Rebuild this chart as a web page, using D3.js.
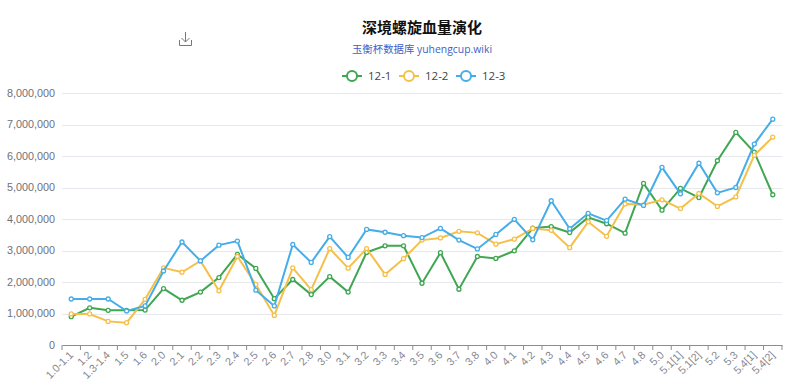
<!DOCTYPE html>
<html>
<head>
<meta charset="utf-8">
<script src="https://cdn.jsdelivr.net/npm/d3@7"></script>
<style>
  html, body { margin: 0; padding: 0; background: #fff; }
  svg { display: block; font-family: "Open Sans", "Noto Sans CJK SC", sans-serif; }
</style>
</head>
<body>
<svg id="chart" width="800" height="387"></svg>
<script>
const categories = ['1.0-1.1', '1.2', '1.3-1.4', '1.5', '1.6', '2.0', '2.1', '2.2', '2.3', '2.4', '2.5', '2.6', '2.7', '2.8',
  '3.0', '3.1', '3.2', '3.3', '3.4', '3.5', '3.6', '3.7', '3.8', '4.0', '4.1', '4.2', '4.3', '4.4', '4.5', '4.6', '4.7', '4.8',
  '5.0', '5.1[1]', '5.1[2]', '5.2', '5.3', '5.4[1]', '5.4[2]'];

const green = [900000, 1180000, 1100000, 1100000, 1110000, 1790000, 1420000, 1680000, 2140000, 2880000, 2430000, 1470000, 2080000, 1600000,
  2170000, 1680000, 2940000, 3150000, 3150000, 1960000, 2930000, 1770000, 2810000, 2750000, 2990000, 3710000, 3760000, 3570000, 4050000, 3850000, 3550000, 5130000,
  4280000, 4970000, 4680000, 5850000, 6750000, 6120000, 4770000];

const yellow = [985000, 985000, 750000, 710000, 1450000, 2450000, 2310000, 2670000, 1720000, 2810000, 1920000, 940000, 2450000, 1760000,
  3060000, 2440000, 3060000, 2240000, 2740000, 3330000, 3400000, 3610000, 3560000, 3200000, 3360000, 3700000, 3640000, 3090000, 3910000, 3450000, 4480000, 4450000,
  4610000, 4330000, 4810000, 4400000, 4700000, 6020000, 6600000];

const blue = [1460000, 1460000, 1460000, 1080000, 1240000, 2350000, 3270000, 2670000, 3170000, 3300000, 1740000, 1240000, 3190000, 2620000,
  3440000, 2780000, 3670000, 3580000, 3470000, 3410000, 3700000, 3330000, 3050000, 3510000, 3990000, 3340000, 4580000, 3690000, 4180000, 3950000, 4630000, 4430000,
  5640000, 4800000, 5770000, 4830000, 5000000, 6380000, 7170000];

const seriesNames = ['12-1', '12-2', '12-3'];
const seriesColors = ['#3fa652', '#f5c04a', '#45ade8'];
const seriesValues = [green, yellow, blue];
const yTicks = [0, 1000000, 2000000, 3000000, 4000000, 5000000, 6000000, 7000000, 8000000];

const margin = { left: 62, right: 18, top: 93, bottom: 42 };
const width = 800;
const height = 387;

const svg = d3.select('#chart');

const x = d3.scaleBand().domain(categories).range([margin.left, width - margin.right]);
const y = d3.scaleLinear().domain([0, 8000000]).range([height - margin.bottom, margin.top]);

// horizontal grid
svg.append('g')
  .selectAll('line')
  .data(yTicks.slice(1))
  .join('line')
  .attr('x1', margin.left)
  .attr('x2', width - margin.right)
  .attr('y1', function (d) { return Math.round(y(d)) + 0.5; })
  .attr('y2', function (d) { return Math.round(y(d)) + 0.5; })
  .attr('stroke', '#e6e8ee');

// y axis, labels only
const yAxis = svg.append('g')
  .attr('transform', `translate(${margin.left},0)`)
  .call(d3.axisLeft(y).tickValues(yTicks).tickSize(0).tickPadding(7).tickFormat(d3.format(',')));
yAxis.select('.domain').remove();
yAxis.selectAll('text').attr('fill', '#6e7079').attr('font-size', 10.8);

// x axis: ticks sit on the band edges, labels on the centres
const xAxis = svg.append('g')
  .attr('transform', `translate(0,${y(0)})`)
  .call(d3.axisBottom(x).tickSize(0).tickPadding(0));
xAxis.select('.domain').attr('stroke', '#8a8d96');
xAxis.selectAll('text')
  .attr('fill', '#85878f')
  .attr('font-size', 10.8)
  .attr('text-anchor', 'end')
  .attr('transform', 'translate(0,8) rotate(-45)')
  .attr('dy', '0.35em')
  .attr('y', 0);
xAxis.selectAll('line.edge')
  .data(categories.concat(['end']))
  .join('line')
  .attr('class', 'edge')
  .attr('x1', function (d, i) { return margin.left + i * x.step(); })
  .attr('x2', function (d, i) { return margin.left + i * x.step(); })
  .attr('y1', 0)
  .attr('y2', 5)
  .attr('stroke', '#8a8d96');

// lines and points
const line = d3.line()
  .x(function (d, i) { return x(categories[i]) + x.bandwidth() / 2; })
  .y(function (d) { return y(d); });

seriesValues.forEach(function (values, s) {
  const g = svg.append('g');
  g.append('path')
    .attr('d', line(values))
    .attr('fill', 'none')
    .attr('stroke', seriesColors[s])
    .attr('stroke-width', 2);
  g.selectAll('circle')
    .data(values)
    .join('circle')
    .attr('cx', function (d, i) { return x(categories[i]) + x.bandwidth() / 2; })
    .attr('cy', function (d) { return y(d); })
    .attr('r', 2)
    .attr('fill', '#fff')
    .attr('stroke', seriesColors[s])
    .attr('stroke-width', 1.3);
});

// title
svg.append('text')
  .attr('x', 422).attr('y', 33)
  .attr('text-anchor', 'middle')
  .attr('font-family', '"Noto Sans CJK SC", sans-serif')
  .attr('font-size', 15)
  .attr('font-weight', 700)
  .attr('fill', '#111')
  .text('深境螺旋血量演化');

svg.append('text')
  .attr('x', 422).attr('y', 53)
  .attr('text-anchor', 'middle')
  .attr('font-size', 10.4)
  .attr('fill', '#3f5fc4')
  .text('玉衡杯数据库 yuhengcup.wiki');

// legend
const legend = svg.append('g')
  .selectAll('g')
  .data(seriesNames)
  .join('g')
  .attr('transform', function (d, i) { return `translate(${342 + i * 57},76)`; });
legend.append('line')
  .attr('x1', 0).attr('x2', 20).attr('y1', 0).attr('y2', 0)
  .attr('stroke', function (d, i) { return seriesColors[i]; })
  .attr('stroke-width', 2);
legend.append('circle')
  .attr('cx', 10).attr('cy', 0).attr('r', 5)
  .attr('fill', '#fff')
  .attr('stroke', function (d, i) { return seriesColors[i]; })
  .attr('stroke-width', 2);
legend.append('text')
  .attr('x', 26).attr('y', 0).attr('dy', '0.35em')
  .attr('font-size', 11.5)
  .attr('fill', '#444')
  .text(function (d) { return d; });

// save-as-image toolbox icon
svg.append('path')
  .attr('transform', 'translate(179,32)')
  .attr('d', 'M0.5 8 V13.5 H12.5 V8 M6.5 0 V10 M2.5 6 L6.5 10 L10.5 6')
  .attr('fill', 'none')
  .attr('stroke', '#777')
  .attr('stroke-width', 1);
</script>
</body>
</html>
